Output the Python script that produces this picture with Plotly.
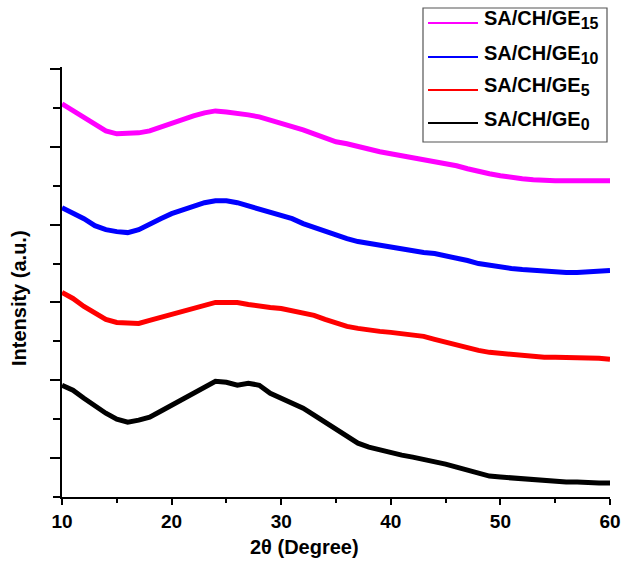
import plotly.graph_objects as go

two_theta = list(range(10, 61))

ge0 = [112, 107, 99, 91, 84, 78, 75, 77, 80, 86, 92, 98, 104, 110, 116, 115, 112, 114, 112, 104,
       99, 94, 89, 82, 75, 67, 60, 54, 50, 47, 45, 42, 40, 38, 36, 33, 30, 27, 23, 21,
       20, 19, 18, 17, 16, 15, 15, 15, 14, 14, 14]
ge5 = [205, 199, 191, 184, 178, 175, 174, 174, 177, 180, 183, 187, 190, 193, 195, 195, 195, 193, 191, 190,
       189, 187, 185, 182, 178, 174, 171, 169, 167, 166, 165, 164, 163, 161, 158, 155, 152, 149, 147, 145,
       144, 142, 141, 141, 140, 140, 140, 139, 139, 139, 138]
ge10 = [290, 285, 279, 272, 268, 266, 265, 268, 274, 279, 284, 288, 292, 295, 297, 297, 295, 292, 289, 286,
        283, 279, 274, 270, 266, 262, 259, 256, 254, 252, 250, 248, 247, 245, 244, 242, 239, 237, 234, 232,
        230, 229, 228, 227, 226, 225, 225, 225, 226, 226, 227]
ge15 = [394, 387, 380, 373, 367, 364, 364, 365, 367, 371, 375, 379, 382, 385, 387, 386, 385, 383, 381, 378,
        375, 371, 368, 364, 360, 356, 354, 351, 349, 346, 344, 342, 340, 339, 337, 335, 332, 329, 326, 324,
        322, 320, 319, 318, 317, 317, 317, 317, 317, 317, 317]

labels = ["SA/CH/GE0", "SA/CH/GE5", "SA/CH/GE10", "SA/CH/GE15"]
subs = ["0", "5", "10", "15"]
values = [ge0, ge5, ge10, ge15]
colors = ["#000000", "#ff0000", "#0000ff", "#ff00ff"]

FONT = "Liberation Sans, Arial, sans-serif"

# plot-area geometry (pixels) used to place the hand-drawn legend in paper coords
L, R, T, B = 62, 610, 67, 497
def px(x):
    return (x - L) / (R - L)
def py(y):
    return (B - y) / (B - T)

fig = go.Figure()
for lab, vals, col in zip(labels, values, colors):
    fig.add_trace(go.Scatter(x=two_theta, y=vals, mode="lines", name=lab,
                             line=dict(color=col, width=5), showlegend=False))

fig.update_layout(
    width=624, height=566,
    margin=dict(l=L, r=624 - R, t=T, b=566 - B, autoexpand=False),
    paper_bgcolor="white", plot_bgcolor="white",
    font=dict(family=FONT, size=19, color="black", weight="bold"),
    showlegend=False,
)
fig.update_xaxes(range=[10, 60], tickvals=[10, 20, 30, 40, 50, 60],
                 showline=True, linecolor="black", linewidth=2,
                 ticks="outside", ticklen=6, tickwidth=2, tickcolor="black",
                 minor=dict(dtick=5, tick0=10, ticks="outside", ticklen=4, tickwidth=2, tickcolor="black"),
                 showgrid=False, zeroline=False,
                 tickfont=dict(family=FONT, size=19, color="black", weight="bold"))
fig.update_yaxes(range=[0, 431], tick0=39, dtick=78, showticklabels=False,
                 showline=True, linecolor="black", linewidth=2,
                 ticks="outside", ticklen=10, tickwidth=2, tickcolor="black",
                 minor=dict(tick0=0, dtick=39, ticks="outside", ticklen=7, tickwidth=2, tickcolor="black"),
                 showgrid=False, zeroline=False)

# legend box (drawn by hand, top entry = last series)
fig.add_shape(type="rect", xref="paper", yref="paper", x0=px(423), x1=px(607), y0=py(142), y1=py(8),
              line=dict(color="#555555", width=1.2), fillcolor="white", layer="above")
rows = [123, 90, 57, 23]
for sub, col, yrow in zip(subs, colors, rows):
    fig.add_shape(type="line", xref="paper", yref="paper", x0=px(428), x1=px(478), y0=py(yrow), y1=py(yrow),
                  line=dict(color=col, width=2), layer="above")
    fig.add_annotation(text="SA/CH/GE<sub><span style='font-size:16px'>" + sub + "</span></sub>",
                       xref="paper", yref="paper", x=px(482), y=py(yrow - 3),
                       xanchor="left", yanchor="middle", showarrow=False,
                       font=dict(family=FONT, size=20, color="black", weight="bold"))

fig.add_annotation(text="2θ (Degree)", xref="paper", yref="paper", x=px(304), y=py(547),
                   xanchor="center", yanchor="middle", showarrow=False,
                   font=dict(family=FONT, size=20, color="black", weight="bold"))
fig.add_annotation(text="Intensity (a.u.)", xref="paper", yref="paper", x=px(19), y=py(298),
                   xanchor="center", yanchor="middle", showarrow=False, textangle=-90,
                   font=dict(family=FONT, size=20, color="black", weight="bold"))

fig.write_html("out.html", config={"displayModeBar": False},
               post_script="document.body.style.margin='0';document.body.style.padding='0';")
